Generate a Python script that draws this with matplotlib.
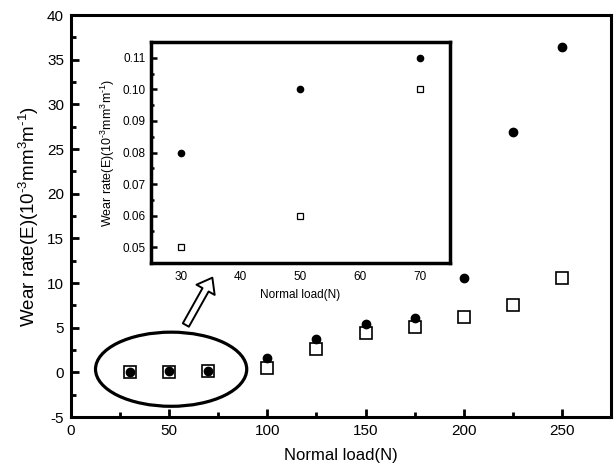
import matplotlib
matplotlib.use("Agg")
import matplotlib.pyplot as plt
from matplotlib.patches import Ellipse
from matplotlib.ticker import MultipleLocator, FormatStrFormatter

plt.rcParams["font.family"] = ["Liberation Sans", "DejaVu Sans"]
plt.rcParams["mathtext.fontset"] = "custom"
plt.rcParams["mathtext.rm"] = "Liberation Sans"
plt.rcParams["mathtext.it"] = "Liberation Sans:italic"
plt.rcParams["axes.unicode_minus"] = False

# main plot data
load = [30, 50, 70, 100, 125, 150, 175, 200, 225, 250]
wear_filled = [0.08, 0.10, 0.11, 1.6, 3.7, 5.4, 6.1, 10.6, 26.9, 36.4]
wear_open = [0.05, 0.06, 0.10, 0.5, 2.6, 4.4, 5.1, 6.2, 7.5, 10.6]

# inset data (low-load region)
inset_load = [30, 50, 70]
inset_filled = [0.08, 0.10, 0.11]
inset_open = [0.05, 0.06, 0.10]

ylabel = r"Wear rate(E)(10$^{\text{-}3}$mm$^{3}$m$^{\text{-}1}$)"

fig = plt.figure(figsize=(6.15, 4.72), dpi=100)
ax = fig.add_axes([0.1154, 0.1165, 0.8781, 0.8515])

ax.plot(load, wear_open, ls="none", marker="s", ms=8, mfc="white", mec="black", mew=1.2, zorder=3)
ax.plot(load, wear_filled, ls="none", marker="o", ms=6, mfc="black", mec="black", zorder=4)

ax.set_xlim(0, 275)
ax.set_ylim(-5, 40)
ax.xaxis.set_major_locator(MultipleLocator(50))
ax.xaxis.set_minor_locator(MultipleLocator(25))
ax.yaxis.set_major_locator(MultipleLocator(5))
ax.yaxis.set_minor_locator(MultipleLocator(2.5))
ax.tick_params(which="major", direction="in", length=6, width=2, labelsize=11, pad=5)
ax.tick_params(which="minor", direction="in", length=3.5, width=2)
for sp in ax.spines.values():
    sp.set_linewidth(2.2)
ax.set_xlabel("Normal load(N)", fontsize=12, labelpad=7)
ax.set_ylabel(ylabel, fontsize=13.5, labelpad=4)

# ellipse marking the low-load points
ax.add_patch(Ellipse((51, 0.35), 77, 8.3, fill=False, ec="black", lw=2.3, zorder=5))

# hollow arrow pointing to the inset
ax.annotate("", xy=(72, 10.6), xytext=(58.5, 5.3),
            arrowprops=dict(arrowstyle="simple,head_width=1.5,head_length=1.0,tail_width=0.5",
                            fc="white", ec="black", lw=1.4, shrinkA=0, shrinkB=0),
            zorder=6)

# inset
axin = fig.add_axes([0.2455, 0.4428, 0.4862, 0.4682])
axin.plot(inset_load, inset_open, ls="none", marker="s", ms=5, mfc="white", mec="black", mew=0.9, zorder=3)
axin.plot(inset_load, inset_filled, ls="none", marker="o", ms=4.5, mfc="black", mec="black", zorder=4)
axin.set_xlim(25, 75)
axin.set_ylim(0.045, 0.115)
axin.xaxis.set_major_locator(MultipleLocator(10))
axin.yaxis.set_major_locator(MultipleLocator(0.01))
axin.yaxis.set_minor_locator(MultipleLocator(0.005))
axin.yaxis.set_major_formatter(FormatStrFormatter("%.2f"))
axin.tick_params(axis="y", which="major", direction="in", length=4, width=1.8, labelsize=8.5, pad=4)
axin.tick_params(axis="y", which="minor", direction="in", length=2.5, width=1.8)
axin.tick_params(axis="x", which="both", length=0, labelsize=8.5, pad=6)
for sp in axin.spines.values():
    sp.set_linewidth(2.5)
axin.set_xlabel("Normal load(N)", fontsize=8.5, labelpad=4)
axin.set_ylabel(ylabel, fontsize=9, labelpad=4)

fig.savefig("out.png", dpi=100)
